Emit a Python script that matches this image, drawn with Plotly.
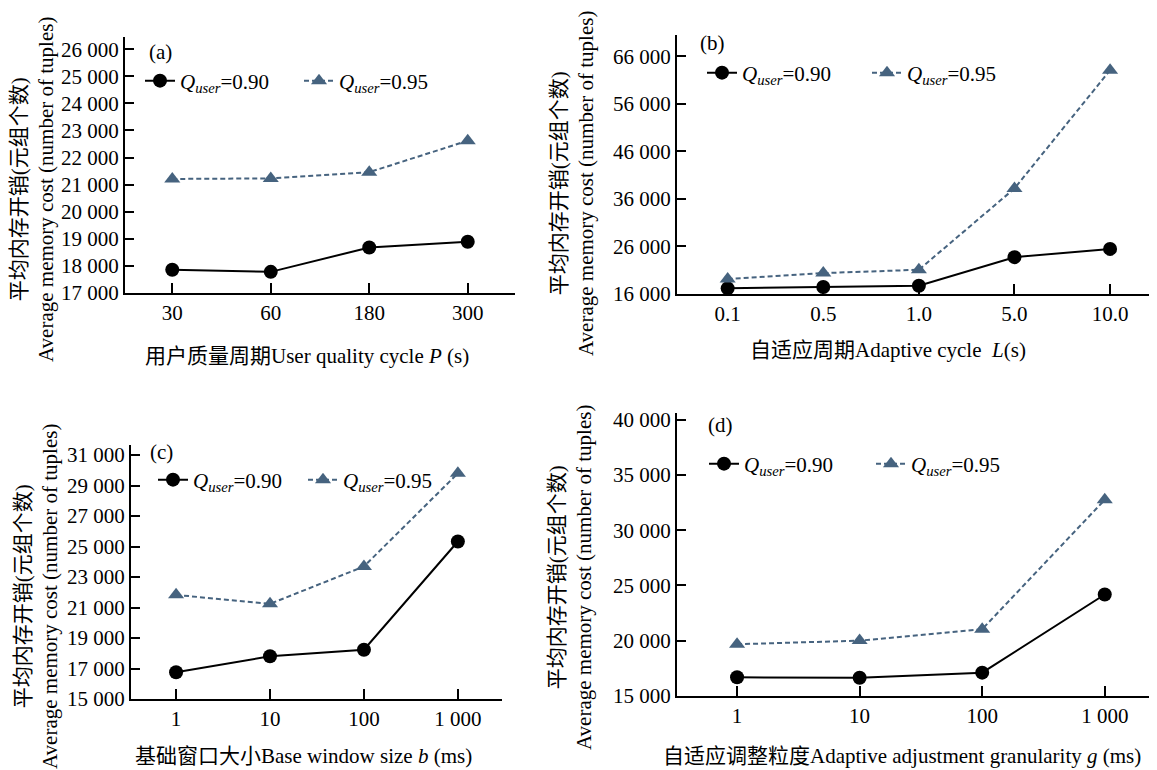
import plotly.graph_objects as go
from plotly.subplots import make_subplots

# ---- data ----
cat_a = ["30", "60", "180", "300"]
a_090 = [17860, 17780, 18680, 18890]
a_095 = [21210, 21230, 21460, 22620]

cat_b = ["0.1", "0.5", "1.0", "5.0", "10.0"]
b_090 = [17190, 17470, 17740, 23750, 25490]
b_095 = [19140, 20400, 21100, 38200, 63100]

cat_c = ["1", "10", "100", "1 000"]
c_090 = [16750, 17800, 18230, 25330]
c_095 = [21830, 21240, 23690, 29800]

cat_d = ["1", "10", "100", "1 000"]
d_090 = [16690, 16650, 17110, 24180]
d_095 = [19680, 20010, 21040, 32750]

ytick_a = list(range(17000, 26001, 1000))
ytick_b = list(range(16000, 66001, 10000))
ytick_c = list(range(15000, 31001, 2000))
ytick_d = list(range(15000, 40001, 5000))

xtitle_a = "用户质量周期User quality cycle <i>P</i> (s)"
xtitle_b = "自适应周期Adaptive cycle  <i>L</i>(s)"
xtitle_c = "基础窗口大小Base window size <i>b</i> (ms)"
xtitle_d = "自适应调整粒度Adaptive adjustment granularity <i>g</i> (ms)"
ytitle = "平均内存开销(元组个数)<br>Average memory cost (number of tuples)"
name_090 = "<i>Q</i><sub><i>user</i></sub>=0.90"
name_095 = "<i>Q</i><sub><i>user</i></sub>=0.95"
labels = ["(a)", "(b)", "(c)", "(d)"]

FONT = "Liberation Serif, Noto Sans CJK SC, serif"
BLUE = "#46637f"
OFF = 8  # default page body margin
W, H = 1157 - OFF, 770 - OFF

def px_x(p):
    return (p - OFF) / W

def px_y(p):
    return 1 - (p - OFF) / H

fig = make_subplots(rows=2, cols=2)

panels = [
    (cat_a, a_090, a_095, ytick_a, [17000, 26450], [-0.48, 3.48], (125, 515), (37, 293), 1, 1, "legend"),
    (cat_b, b_090, b_095, ytick_b, [16000, 70500], [-0.53, 4.47], (677, 1155), (35, 294), 1, 2, "legend2"),
    (cat_c, c_090, c_095, ytick_c, [15000, 31660], [-0.48, 3.47], (131, 502), (445, 699), 2, 1, "legend3"),
    (cat_d, d_090, d_095, ytick_d, [15000, 40600], [-0.49, 3.41], (677, 1155), (413, 696), 2, 2, "legend4"),
]
FS = 21

for i, (cats, s1, s2, yt, yr, xr, xd, yd, r, c, lg) in enumerate(panels):
    fig.add_trace(go.Scatter(x=cats, y=s1, name=name_090, mode="lines+markers",
                             line=dict(color="black", width=2),
                             marker=dict(symbol="circle", size=14, color="black"),
                             legend=lg), row=r, col=c)
    fig.add_trace(go.Scatter(x=cats, y=s2, name=name_095, mode="lines+markers",
                             line=dict(color=BLUE, width=2, dash="5px,3px"),
                             marker=dict(symbol="triangle-up", size=14, color=BLUE),
                             legend=lg), row=r, col=c)
    fig.update_xaxes(type="category", range=xr, domain=[px_x(xd[0]), px_x(xd[1])],
                     showline=True, linecolor="black", linewidth=2, showgrid=False, zeroline=False,
                     ticks="inside", ticklen=10, tickwidth=2, tickcolor="black",
                     tickfont=dict(family=FONT, size=FS, color="black"), row=r, col=c)
    fig.update_yaxes(range=yr, domain=[px_y(yd[1]), px_y(yd[0])], tickvals=yt,
                     tickformat=",d",
                     showline=True, linecolor="black", linewidth=2, showgrid=False, zeroline=False,
                     ticks="inside", ticklen=9, tickwidth=1.5, tickcolor="black",
                     tickfont=dict(family=FONT, size=FS, color="black"), row=r, col=c)

# legends
leg_pos = [(140, 81, 114), (702, 73, 120), (153, 480, 105), (704, 464, 122)]
for i, (lx, ly, ew) in enumerate(leg_pos):
    key = "legend" if i == 0 else f"legend{i+1}"
    fig.update_layout({key: dict(x=px_x(lx), y=px_y(ly), xanchor="left", yanchor="middle",
                                 orientation="h", bgcolor="rgba(0,0,0,0)",
                                 font=dict(family=FONT, size=FS, color="black"),
                                 entrywidth=ew, entrywidthmode="pixels",
                                 itemclick=False)})

# panel labels
lab_pos = [(147, 52), (698, 43), (148, 452), (706, 425)]
for t, (lx, ly) in zip(labels, lab_pos):
    fig.add_annotation(text=t, x=px_x(lx), y=px_y(ly), xref="paper", yref="paper",
                       xanchor="left", yanchor="middle", showarrow=False,
                       font=dict(family=FONT, size=FS, color="black"))

# x titles
xt = [(xtitle_a, 307, 356), (xtitle_b, 888, 350), (xtitle_c, 303, 756), (xtitle_d, 902, 756)]
for t, cx, cy in xt:
    fig.add_annotation(text=t, x=px_x(cx), y=px_y(cy), xref="paper", yref="paper",
                       xanchor="center", yanchor="middle", showarrow=False,
                       font=dict(family=FONT, size=FS, color="black"))

# y titles
yt_pos = [(32, 190), (572, 184), (36, 597), (570, 578)]
for cx, cy in yt_pos:
    fig.add_annotation(text=ytitle, x=px_x(cx), y=px_y(cy), xref="paper", yref="paper",
                       xanchor="center", yanchor="middle", showarrow=False, textangle=-90,
                       font=dict(family=FONT, size=FS, color="black"))

fig.update_layout(width=W, height=H, margin=dict(l=0, r=0, t=0, b=0, autoexpand=False),
                  paper_bgcolor="white", plot_bgcolor="white", separators=". ",
                  font=dict(family=FONT, color="black"))

fig.write_html("out.html")
